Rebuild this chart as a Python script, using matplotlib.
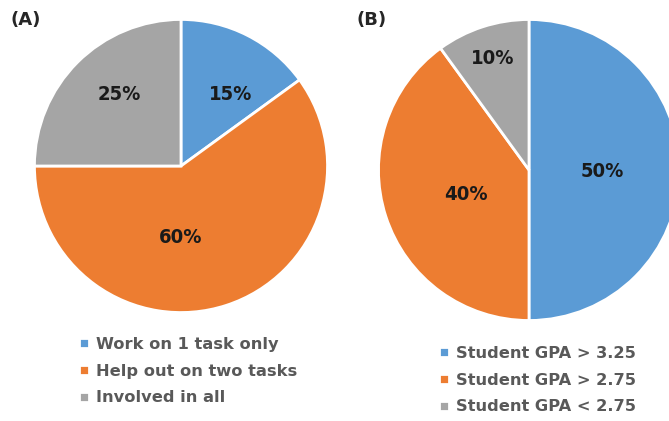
import matplotlib.pyplot as plt

# Datos
labels_a = ['Work on 1 task only', 'Help out on two tasks', 'Involved in all']
values_a = [15, 60, 25]
labels_b = ['Student GPA > 3.25', 'Student GPA > 2.75', 'Student GPA < 2.75']
values_b = [50, 40, 10]
colors = ['#5B9BD5', '#ED7D31', '#A5A5A5']

W, H = 669, 421
fig = plt.figure(figsize=(W / 100, H / 100), dpi=100)


def make_axes(cx, cy, r):
    return fig.add_axes([(cx - r) / W, (H - cy - r) / H, 2 * r / W, 2 * r / H])


def draw_pie(ax, values, label_pos):
    wedges, _ = ax.pie(values, colors=colors, startangle=90, counterclock=False,
                       radius=1, wedgeprops=dict(edgecolor='white', linewidth=2))
    for v, (x, y) in zip(values, label_pos):
        ax.text(x, y, f'{v}%', ha='center', va='center', fontsize=14.5,
                fontweight='bold', fontstretch='condensed', family='DejaVu Sans',
                color='#1a1a1a')
    ax.set_xlim(-1.01, 1.01)
    ax.set_ylim(-1.01, 1.01)
    ax.set_aspect('auto')
    ax.axis('off')
    return wedges


# (A)
ax1 = make_axes(181, 166, 148)
w1 = draw_pie(ax1, values_a, [(0.34, 0.49), (0.0, -0.49), (-0.42, 0.49)])
# (B)
ax2 = make_axes(529, 170, 152)
w2 = draw_pie(ax2, values_b, [(0.49, -0.01), (-0.42, -0.16), (-0.24, 0.74)])

fig.text(10 / W, 1 - 20 / H, '(A)', fontsize=13, fontweight='bold',
         color='#262626', va='center')
fig.text(357 / W, 1 - 20 / H, '(B)', fontsize=13, fontweight='bold',
         color='#262626', va='center')

leg_kw = dict(frameon=False, handlelength=0.6, handleheight=0.6,
              handletextpad=0.45, labelspacing=0.72, borderaxespad=0, borderpad=0,
              labelcolor='#595959', prop=dict(weight='bold', size=11.7))
fig.legend(w1, labels_a, loc='upper left', bbox_to_anchor=(79 / W, 1 - 337 / H), **leg_kw)
fig.legend(w2, labels_b, loc='upper left', bbox_to_anchor=(439 / W, 1 - 346 / H), **leg_kw)

fig.savefig('out.png', dpi=100)
